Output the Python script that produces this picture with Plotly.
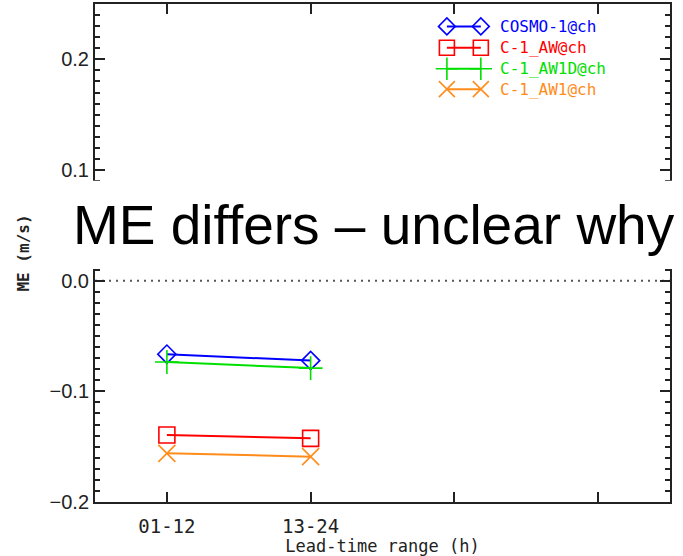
import plotly.graph_objects as go

# Lead-time ranges (x categories) and mean error per configuration
lead_ranges = ["01-12", "13-24"]
tick_labels = ["01-12", "13-24", "", ""]
cosmo1 = [-0.0664, -0.0722]
c1_aw = [-0.1395, -0.1425]
c1_aw1d = [-0.0735, -0.0790]
c1_aw1 = [-0.1560, -0.1590]

series_names = ["COSMO-1@ch", "C-1_AW@ch", "C-1_AW1D@ch", "C-1_AW1@ch"]
series_values = [cosmo1, c1_aw, c1_aw1d, c1_aw1]
series_colors = ["#0000ff", "#ff0000", "#00e000", "#ff8c1a"]
series_symbols = ["diamond-open", "square-open", "cross-thin-open", "x-thin-open"]
series_sizes = [14, 16, 17, 17]

AXIS = "#222222"
MONO = "DejaVu Sans Mono"

x_pos = list(range(1, len(lead_ranges) + 1))

fig = go.Figure()

for name, vals, col, sym, sz in zip(series_names, series_values, series_colors,
                                    series_symbols, series_sizes):
    fig.add_trace(go.Scatter(
        x=x_pos, y=vals, mode="lines+markers", name=name,
        line=dict(color=col, width=2),
        marker=dict(symbol=sym, size=sz, color=col, line=dict(color=col, width=1.6)),
        showlegend=False, hoverinfo="skip",
    ))

# Hand-built legend: short line with a marker at each end, on a hidden overlay axis
leg_y = [0.955, 0.912, 0.870, 0.829]
leg_x0, leg_x1, leg_tx = 0.612, 0.671, 0.700
for name, col, sym, sz, ly in zip(series_names, series_colors, series_symbols,
                                  series_sizes, leg_y):
    fig.add_trace(go.Scatter(
        x=[leg_x0, leg_x1], y=[ly, ly], mode="lines+markers",
        xaxis="x2", yaxis="y2", showlegend=False, hoverinfo="skip",
        line=dict(color=col, width=2),
        marker=dict(symbol=sym, size=sz - 1, color=col, line=dict(color=col, width=1.6)),
    ))
    fig.add_annotation(
        x=leg_tx, y=ly, xref="paper", yref="paper", text=name, showarrow=False,
        xanchor="left", yanchor="middle",
        font=dict(family=MONO, size=16, color=col),
    )

# Dotted zero reference line
fig.add_shape(type="line", xref="paper", yref="y", x0=0, x1=1, y0=0, y1=0,
              line=dict(color="#555555", width=2, dash="2px,5px"), layer="below")

# White banner carrying the remark across the middle of the plot
fig.add_shape(type="rect", xref="paper", yref="paper",
              x0=-0.043, x1=1.05, y0=0.468, y1=0.645,
              fillcolor="white", line=dict(width=0), layer="above")
fig.add_annotation(
    x=-0.041, y=0.557, xref="paper", yref="paper",
    text="ME differs \u2013 unclear why", showarrow=False,
    xanchor="left", yanchor="middle",
    font=dict(family="Liberation Sans, Arial", size=55, color="black"),
)

fig.update_layout(
    width=683, height=556,
    margin=dict(l=95, r=13, t=4, b=54),
    paper_bgcolor="white", plot_bgcolor="white",
    xaxis=dict(
        range=[0.5, 4.5], tickvals=[1, 2, 3, 4], ticktext=tick_labels,
        ticks="inside", ticklen=10, tickwidth=1.5, tickcolor=AXIS,
        showline=True, linecolor=AXIS, linewidth=2, mirror="ticks",
        showgrid=False, zeroline=False, ticklabelstandoff=6, automargin=False,
        tickfont=dict(family=MONO, size=19, color=AXIS),
        title=dict(text="Lead-time range (h)", standoff=6,
                   font=dict(family=MONO, size=17, color=AXIS)),
    ),
    yaxis=dict(
        range=[-0.2, 0.25], tickvals=[-0.2, -0.1, 0.0, 0.1, 0.2],
        ticktext=["\u22120.2", "\u22120.1", "0.0", "0.1", "0.2"],
        ticks="inside", ticklen=10, tickwidth=1.5, tickcolor=AXIS,
        minor=dict(dtick=0.01, ticks="inside", ticklen=5, tickwidth=1.5, tickcolor=AXIS),
        showline=True, linecolor=AXIS, linewidth=2, mirror="ticks",
        showgrid=False, zeroline=False, automargin=False,
        tickfont=dict(family="Liberation Sans, Arial", size=20, color=AXIS),
        title=dict(text="<b>ME (m/s)</b>", standoff=16,
                   font=dict(family=MONO, size=16, color=AXIS)),
    ),
    xaxis2=dict(overlaying="x", range=[0, 1], visible=False, fixedrange=True),
    yaxis2=dict(overlaying="y", range=[0, 1], visible=False, fixedrange=True),
)

fig.write_html("out.html")
